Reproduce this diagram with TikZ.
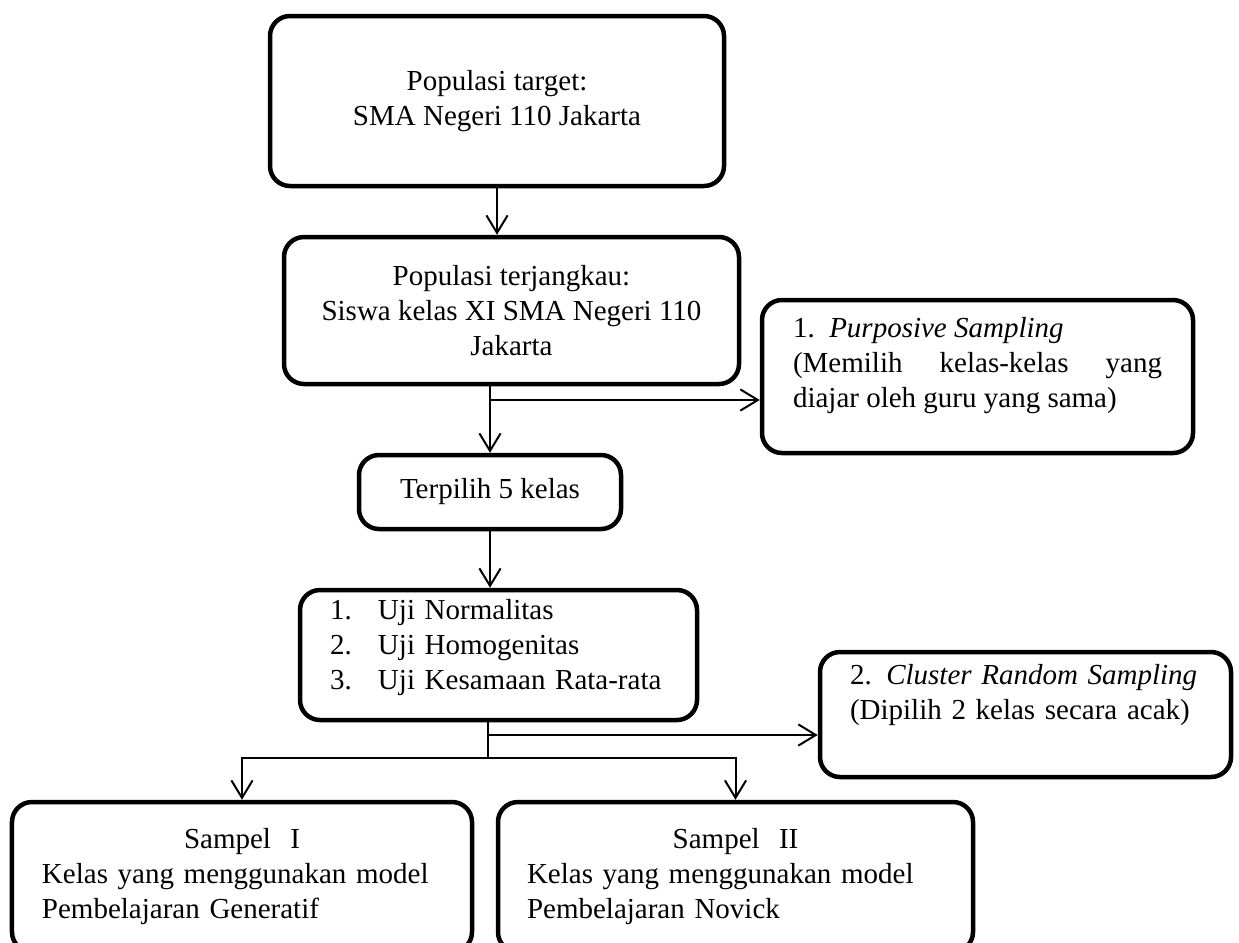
\documentclass[tikz,border=0pt]{standalone}
\usepackage{fontspec}
\setmainfont{Liberation Serif}
\usetikzlibrary{arrows.meta}
\hyphenpenalty=10000
\exhyphenpenalty=10000
\newcommand{\ujiitem}[2]{\mbox{\makebox[19.2pt][l]{#1}#2}}
\newcommand{\lift}[1]{\par\nointerlineskip\vbox to #1{}}

\begin{document}
\begin{tikzpicture}[x=0.4pt,y=-0.4pt,>={Straight Barb[length=7pt,width=8.5pt]},
	every node/.style={font=\fontsize{11.6pt}{14pt}\selectfont},
	box/.style={draw,line width=1.8pt,rounded corners=8pt,inner sep=0pt},
	link/.style={line width=0.8pt}]
\useasboundingbox (0,0) rectangle (1239,942);

\node[box,align=center,minimum width=181.6pt,minimum height=68pt](target) at (497,101)
	{Populasi target:\\SMA Negeri 110 Jakarta};
\node[box,align=center,minimum width=182pt,minimum height=58.8pt](terjangkau) at (511.5,310.5)
	{Populasi terjangkau:\\Siswa kelas XI SMA Negeri 110\\Jakarta};
\node[box,align=justify,text width=147.6pt,minimum width=172.4pt,minimum height=61.2pt](purposive) at (977.5,376.5)
	{\tolerance=10000
	1.\ \ \textit{Purposive Sampling}\\(Memilih kelas-kelas yang diajar oleh guru yang sama)\lift{8.8pt}};
\node[box,minimum width=104.8pt,minimum height=29.6pt](terpilih) at (490,492)
	{Terpilih 5 kelas};
\node[box,align=left,text width=134.8pt,minimum width=158.8pt,minimum height=52pt](uji) at (498.5,655)
	{\ujiitem{1.}{Uji Normalitas}\\\ujiitem{2.}{Uji Homogenitas}\\\ujiitem{3.}{Uji Kesamaan Rata-rata}\lift{5.6pt}};
\node[box,align=left,text width=140.4pt,minimum width=164.4pt,minimum height=50pt](cluster) at (1025.5,714.5)
	{\mbox{2. \textit{Cluster Random Sampling}}\\\mbox{(Dipilih 2 kelas secara acak)}\lift{15.2pt}};
\node[box,text width=160pt,minimum width=184pt,minimum height=60pt](sampel1) at (242,877)
	{\centering Sampel\ \ I\par\raggedright Kelas yang menggunakan model\\Pembelajaran Generatif};
\node[box,text width=166.8pt,minimum width=190pt,minimum height=60pt](sampel2) at (735.5,877)
	{\centering Sampel\ \ II\par\raggedright Kelas yang menggunakan model\\Pembelajaran Novick};

\coordinate (fork1) at (490,400);
\coordinate (fork2) at (488,735);
\coordinate (split) at (488,758);

\draw[link,->](target.south)-- (target.south |- terjangkau.north);
\draw[link,->](terjangkau.south -| terpilih.north)-- (terpilih.north);
\draw[link,->](fork1)-- (fork1 -| purposive.west);
\draw[link,->](terpilih.south)-- (terpilih.south |- uji.north);
\draw[link](uji.south -| split)-- (split);
\draw[link,->](fork2)-- (fork2 -| cluster.west);
\draw[link,->](split)-| (sampel1.north);
\draw[link,->](split)-| (sampel2.north);
\end{tikzpicture}
\end{document}
